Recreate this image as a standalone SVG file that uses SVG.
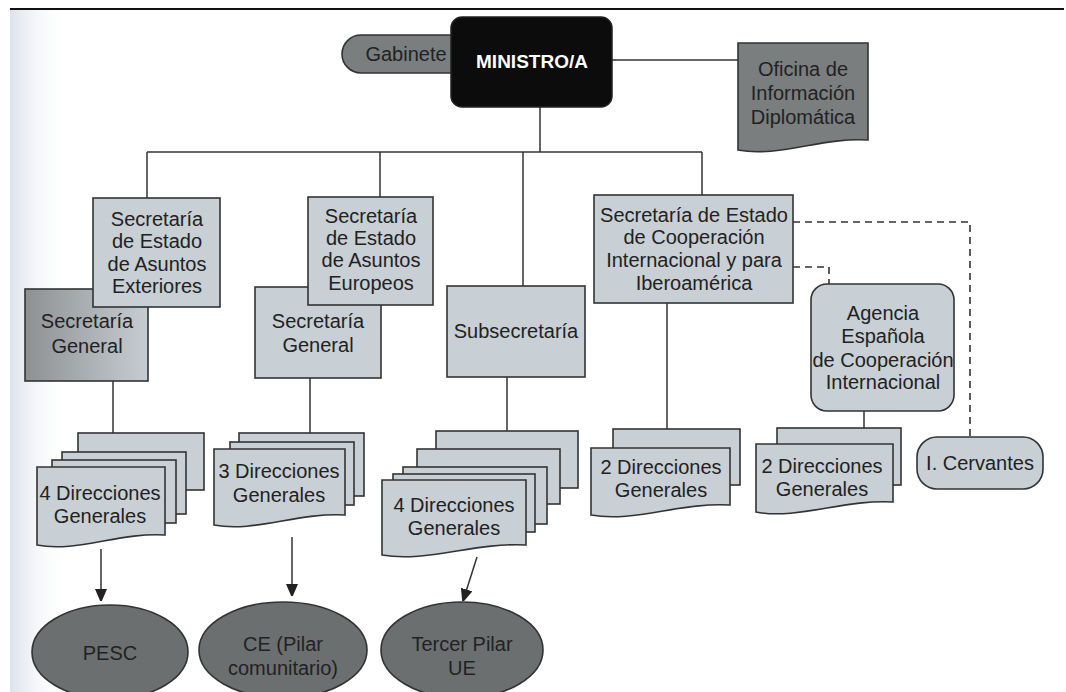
<svg xmlns="http://www.w3.org/2000/svg" width="1066" height="692" viewBox="0 0 1066 692">
<defs>
<style>
.t{font-family:"Liberation Sans",Arial,sans-serif;font-size:20px;fill:#222;text-anchor:middle}
.lt{fill:#c8cfd5;stroke:#333;stroke-width:1.6}
.dk{fill:#6c6f70;stroke:#333;stroke-width:1.6}
.md{fill:#7a7e7e;stroke:#333;stroke-width:1.6}
.ln{stroke:#333;stroke-width:1.5;fill:none}
.ds{stroke:#333;stroke-width:1.6;fill:none;stroke-dasharray:7 5}
</style>
<linearGradient id="sgg" x1="0" y1="0" x2="1" y2="0">
<stop offset="0" stop-color="#8e9193"/>
<stop offset="1" stop-color="#c6cdd2"/>
</linearGradient>
<linearGradient id="edge" x1="0" y1="0" x2="1" y2="0">
<stop offset="0" stop-color="#dde3ea"/>
<stop offset="1" stop-color="#ffffff" stop-opacity="0"/>
</linearGradient>
<marker id="ah" viewBox="0 0 12 16" refX="12" refY="6" markerWidth="12" markerHeight="16" markerUnits="userSpaceOnUse" orient="auto">
<path d="M0 0 L14 6 L0 12 Z" fill="#222"/>
</marker>
</defs>
<rect x="0" y="0" width="1066" height="692" fill="#fff"/>
<rect x="10" y="9" width="60" height="683" fill="url(#edge)"/>
<line x1="10" y1="9" x2="1064" y2="9" stroke="#111" stroke-width="2"/>

<g id="connectors">
<line class="ln" x1="612" y1="60" x2="738" y2="60"/>
<line class="ln" x1="540" y1="107" x2="540" y2="152"/>
<line class="ln" x1="147" y1="152" x2="702" y2="152"/>
<line class="ln" x1="147" y1="152" x2="147" y2="198"/>
<line class="ln" x1="380" y1="152" x2="380" y2="197"/>
<line class="ln" x1="523" y1="152" x2="523" y2="286"/>
<line class="ln" x1="702" y1="152" x2="702" y2="195"/>
<line class="ln" x1="113" y1="381" x2="113" y2="433"/>
<line class="ln" x1="310" y1="378" x2="310" y2="433"/>
<line class="ln" x1="507" y1="377" x2="507" y2="431"/>
<line class="ln" x1="667" y1="303" x2="667" y2="429"/>
<line class="ln" x1="864" y1="411" x2="864" y2="428"/>
<path class="ds" d="M793 222 H970 V437"/>
<path class="ds" d="M793 267 H829 V284"/>
<line class="ln" x1="101" y1="549" x2="101" y2="601" marker-end="url(#ah)"/>
<line class="ln" x1="292" y1="537" x2="292" y2="596" marker-end="url(#ah)"/>
<line class="ln" x1="477" y1="557" x2="463" y2="601" marker-end="url(#ah)"/>
</g>

<g id="gabinete">
<rect class="md" x="342" y="35" width="128" height="38" rx="19"/>
<text class="t" x="406" y="61">Gabinete</text>
</g>
<g id="ministro">
<rect x="451" y="17" width="161" height="90" rx="11" fill="#0c0c0c" stroke="#222" stroke-width="1.5"/>
<text class="t" x="532" y="68" style="fill:#fff;font-weight:bold;font-size:19px">MINISTRO/A</text>
</g>
<g id="oficina">
<path class="md" d="M738 43 H868 V140 C822.5 137 777 158 738 150 Z"/>
<text class="t" x="803" y="76">Oficina de</text>
<text class="t" x="803" y="100">Información</text>
<text class="t" x="803" y="124">Diplomática</text>
</g>

<g id="sg-izq">
<rect x="25" y="289" width="123" height="92" fill="url(#sgg)" stroke="#333" stroke-width="1.6"/>
<text class="t" x="87" y="328">Secretaría</text>
<text class="t" x="87" y="353">General</text>
</g>
<g id="seae">
<rect class="lt" x="93" y="198" width="127" height="109"/>
<text class="t" x="157" y="226">Secretaría</text>
<text class="t" x="157" y="248">de Estado</text>
<text class="t" x="157" y="271">de Asuntos</text>
<text class="t" x="157" y="293">Exteriores</text>
</g>

<g id="sg-eur">
<rect class="lt" x="255" y="287" width="126" height="91"/>
<text class="t" x="318" y="328">Secretaría</text>
<text class="t" x="318" y="352">General</text>
</g>
<g id="seue">
<rect class="lt" x="308" y="197" width="125" height="108"/>
<text class="t" x="371" y="223">Secretaría</text>
<text class="t" x="371" y="245">de Estado</text>
<text class="t" x="371" y="267">de Asuntos</text>
<text class="t" x="371" y="290">Europeos</text>
</g>

<g id="subsecretaria">
<rect class="lt" x="447" y="286" width="138" height="91"/>
<text class="t" x="516" y="338">Subsecretaría</text>
</g>

<g id="seci">
<rect class="lt" x="594" y="195" width="199" height="108"/>
<text class="t" x="694" y="222">Secretaría de Estado</text>
<text class="t" x="694" y="244">de Cooperación</text>
<text class="t" x="694" y="267">Internacional y para</text>
<text class="t" x="694" y="290">Iberoamérica</text>
</g>

<g id="agencia">
<rect class="lt" x="811" y="284" width="143" height="127" rx="16"/>
<text class="t" x="883" y="320">Agencia</text>
<text class="t" x="883" y="343">Española</text>
<text class="t" x="883" y="367">de Cooperación</text>
<text class="t" x="883" y="389">Internacional</text>
</g>

<g id="cervantes">
<rect class="lt" x="917" y="437" width="126" height="52" rx="20"/>
<text class="t" x="980" y="470">I. Cervantes</text>
</g>

<g id="dg-seae">
<rect class="lt" x="78" y="433" width="126" height="57"/>
<rect class="lt" x="62" y="452" width="124" height="62"/>
<rect class="lt" x="52" y="460" width="124" height="63"/>
<path class="lt" d="M37 467 H165 V535 C120.2 532 75.4 553 37 545 Z"/>
<text class="t" x="100" y="500">4 Direcciones</text>
<text class="t" x="100" y="523">Generales</text>
</g>

<g id="dg-seue">
<rect class="lt" x="239" y="433" width="125" height="63"/>
<rect class="lt" x="230" y="442" width="124" height="63"/>
<path class="lt" d="M214 449 H345 V515 C299.15 512 253.3 533 214 525 Z"/>
<text class="t" x="279" y="478">3 Direcciones</text>
<text class="t" x="279" y="502">Generales</text>
</g>

<g id="dg-subsec">
<rect class="lt" x="436" y="431" width="142" height="57"/>
<rect class="lt" x="417" y="449" width="143" height="55"/>
<rect class="lt" x="403" y="467" width="144" height="57"/>
<rect class="lt" x="393" y="474" width="142" height="58"/>
<path class="lt" d="M382 480 H526 V545 C475.6 542 425.2 563 382 555 Z"/>
<text class="t" x="454" y="512">4 Direcciones</text>
<text class="t" x="454" y="535">Generales</text>
</g>

<g id="dg-seci">
<rect class="lt" x="613" y="429" width="127" height="56"/>
<path class="lt" d="M591 448 H730 V505 C681.35 502 632.7 523 591 515 Z"/>
<text class="t" x="661" y="474">2 Direcciones</text>
<text class="t" x="661" y="497">Generales</text>
</g>

<g id="dg-agencia">
<rect class="lt" x="777" y="428" width="124" height="57"/>
<path class="lt" d="M756 444 H893 V502 C845 499 797 520 756 512 Z"/>
<text class="t" x="822" y="473">2 Direcciones</text>
<text class="t" x="822" y="496">Generales</text>
</g>

<g id="pesc">
<ellipse class="dk" cx="110" cy="652" rx="78" ry="47"/>
<text class="t" x="110" y="660">PESC</text>
</g>
<g id="ce">
<ellipse class="dk" cx="283" cy="650" rx="84" ry="48"/>
<text class="t" x="283" y="651">CE (Pilar</text>
<text class="t" x="283" y="675">comunitario)</text>
</g>
<g id="tercer">
<ellipse class="dk" cx="462" cy="650" rx="81" ry="48"/>
<text class="t" x="462" y="651">Tercer Pilar</text>
<text class="t" x="462" y="675">UE</text>
</g>
</svg>
